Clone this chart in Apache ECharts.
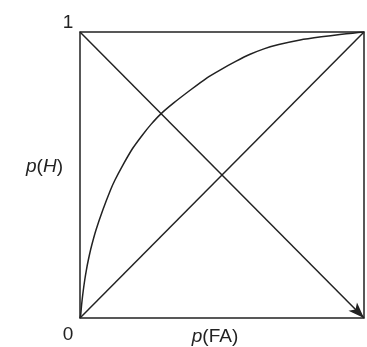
<!DOCTYPE html>
<html>
<head>
<meta charset="utf-8">
<script src="https://cdn.jsdelivr.net/npm/echarts@6/dist/echarts.min.js"></script>
<style>
  html, body { margin: 0; padding: 0; background: #fff; }
  #chart { width: 367px; height: 347px; }
</style>
</head>
<body>
<div id="chart"></div>
<script>
// ROC curve: false-alarm rate vs hit rate
const falseAlarmRate = [0, 0.0025, 0.0056, 0.0095, 0.0141, 0.0194, 0.0257, 0.0331, 0.0415, 0.0563, 0.0803, 0.1074, 0.1232, 0.15, 0.184, 0.22, 0.25, 0.284, 0.33, 0.39, 0.446, 0.493, 0.55, 0.599, 0.65, 0.70, 0.775, 0.85, 0.915, 0.96, 1];
const hitRate        = [0, 0.0105, 0.0455, 0.0804, 0.1154, 0.1503, 0.1853, 0.2203, 0.2552, 0.3077, 0.3776, 0.4476, 0.4825, 0.533, 0.591, 0.64, 0.677, 0.713, 0.752, 0.798, 0.839, 0.867, 0.898, 0.922, 0.942, 0.956, 0.972, 0.983, 0.991, 0.996, 1];

// chance diagonal and the negative diagonal (drawn with an arrow)
const chanceLine = [[0, 0], [1, 1]];
const negativeDiagonal = [[0, 1], [1, 0]];

// corner tick labels
const tickValues = [0, 1];
const tickLabels = ['0', '1'];

const ink = '#222';
const font = 'Liberation Sans, Arial, Helvetica, sans-serif';

const chart = echarts.init(document.getElementById('chart'));
chart.setOption({
  animation: false,
  grid: {
    left: 80, top: 32, right: 3, bottom: 29,
    containLabel: false, outerBoundsMode: 'none',
    show: true, borderColor: ink, borderWidth: 1.5, backgroundColor: 'transparent'
  },
  xAxis: {
    type: 'value', min: 0, max: 1, interval: 1,
    axisLine: { show: false }, axisTick: { show: false },
    axisLabel: { show: false }, splitLine: { show: false },
    name: '{i|p}(FA)', nameLocation: 'middle', nameGap: 9,
    nameTextStyle: {
      color: ink, fontSize: 19, fontFamily: font, padding: [0, 14, 0, 0],
      rich: { i: { fontStyle: 'italic', fontSize: 19, fontFamily: font, color: ink } }
    }
  },
  yAxis: {
    type: 'value', min: 0, max: 1, interval: 1,
    axisLine: { show: false }, axisTick: { show: false }, splitLine: { show: false },
    axisLabel: { show: false },
    name: '{i|p}({i|H})', nameLocation: 'middle', nameGap: 17, nameRotate: 0,
    nameTextStyle: {
      color: ink, fontSize: 19, fontFamily: font, align: 'right', padding: [0, 0, 16, 0],
      rich: { i: { fontStyle: 'italic', fontSize: 19, fontFamily: font, color: ink } }
    }
  },
  series: [
    {
      name: 'ROC', type: 'line', showSymbol: false, smooth: 0.2,
      lineStyle: { color: ink, width: 1.5 },
      data: falseAlarmRate.map((x, i) => [x, hitRate[i]])
    },
    {
      name: 'chance', type: 'line', showSymbol: false,
      lineStyle: { color: ink, width: 1.5 },
      data: chanceLine
    },
    {
      name: 'negative diagonal', type: 'line', showSymbol: false,
      lineStyle: { width: 0 }, data: negativeDiagonal,
      markLine: {
        silent: true, symbol: ['none', 'arrow'], symbolSize: [9, 16],
        label: { show: false },
        lineStyle: { color: ink, width: 1.5, type: 'solid' },
        data: [[{ coord: negativeDiagonal[0] }, { coord: negativeDiagonal[1] }]]
      }
    }
  ]
});

// "0" sits below the origin corner, "1" above the top-left corner
const labelOffsets = { 0: 17, 1: -9 };
chart.setOption({
  graphic: tickValues.map((v, i) => {
    const p = chart.convertToPixel({ gridIndex: 0 }, [0, v]);
    return {
      type: 'text', x: p[0] - 12, y: p[1] + labelOffsets[v],
      style: {
        text: tickLabels[i], fill: ink, fontSize: 19, fontFamily: font,
        align: 'center', verticalAlign: 'middle'
      }
    };
  })
});
</script>
</body>
</html>
